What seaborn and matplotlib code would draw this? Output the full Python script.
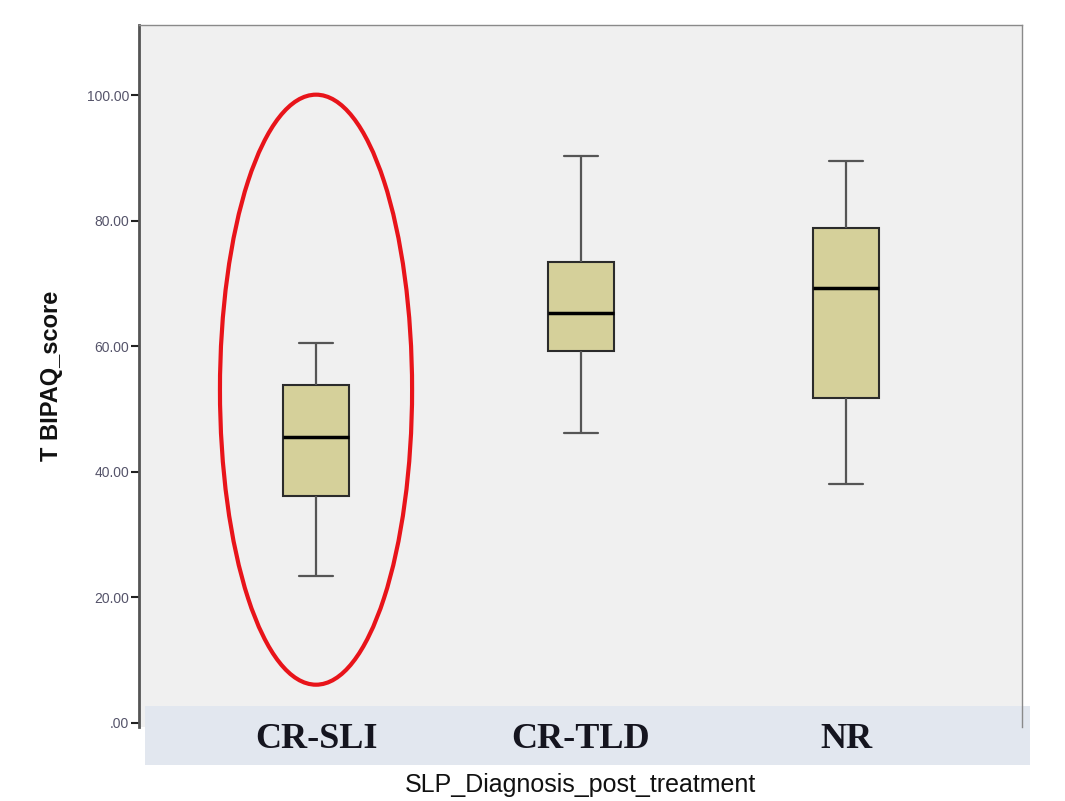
import pandas as pd
import matplotlib.pyplot as plt
import seaborn as sns
from matplotlib.patches import Ellipse, Rectangle

# Five-number summaries (min, Q1, median, Q3, max)
groups = ['CR-SLI', 'CR-TLD', 'NR']
cr_sli = [23.4, 36.2, 45.6, 53.9, 60.6]
cr_tld = [46.2, 59.3, 65.3, 73.5, 90.4]
nr = [38.1, 51.8, 69.3, 78.9, 89.6]
y_ticks = [0, 20, 40, 60, 80, 100]
y_tick_labels = ['.00', '20.00', '40.00', '60.00', '80.00', '100.00']

df = pd.DataFrame({
    'SLP_Diagnosis_post_treatment': [groups[0]] * 5 + [groups[1]] * 5 + [groups[2]] * 5,
    'T BIPAQ_score': cr_sli + cr_tld + nr,
})

sns.set_style('white')
plt.rcParams['font.family'] = ['Liberation Sans', 'DejaVu Sans']

fig = plt.figure(figsize=(10.65, 8.01), dpi=100)
ax = fig.add_axes([139 / 1065, (801 - 727) / 801, 883 / 1065, 702 / 801])
ax.set_facecolor('#f0f0f0')

sns.boxplot(
    data=df, x='SLP_Diagnosis_post_treatment', y='T BIPAQ_score',
    order=groups, color='#d5d09a', saturation=1, width=0.25,
    whis=(0, 100), linecolor='#2b2b2b', linewidth=1.5,
    medianprops=dict(color='black', linewidth=2.5),
    whiskerprops=dict(color='#555555', linewidth=1.6),
    capprops=dict(color='#555555', linewidth=1.6),
    ax=ax,
)

ax.set_xlim(-0.668, 2.664)
ax.set_ylim(-0.64, 111.2)
ax.set_yticks(y_ticks)
ax.set_yticklabels(y_tick_labels, fontsize=10, color='#55546a')
ax.tick_params(axis='y', direction='out', length=6, width=1.5, color='#222222', left=True, pad=1)

# category labels inside the light band below the plot
ax.tick_params(axis='x', length=0, pad=9)
for lab in ax.get_xticklabels():
    lab.set_family(['Liberation Serif'])
    lab.set_fontsize(26)
    lab.set_fontweight('bold')
    lab.set_color('#15151f')
    lab.set_verticalalignment('center')

band = Rectangle((145 / 1065, (801 - 765) / 801), 885 / 1065, 59 / 801,
                 transform=fig.transFigure, facecolor='#e2e7ef', edgecolor='none',
                 clip_on=False, zorder=0.3)
ax.add_patch(band)
ax.xaxis.set_zorder(3)

for side in ['top', 'right']:
    ax.spines[side].set_color('#8a8a8a')
    ax.spines[side].set_linewidth(1)
ax.spines['left'].set_color('#555555')
ax.spines['left'].set_linewidth(2)
ax.spines['bottom'].set_visible(False)

ax.set_ylabel('T BIPAQ_score', fontsize=17, fontweight='bold', color='#111111')
ax.yaxis.set_label_coords((63 - 139) / 883, 0.5)
ax.set_xlabel('SLP_Diagnosis_post_treatment', fontsize=18, color='#111111')
ax.xaxis.set_label_coords(0.5, (727 - 785) / 702)
ax.xaxis.label.set_verticalalignment('center')

# red highlight around CR-SLI
ax.add_patch(Ellipse((0, 53.1), 0.725, 94.0, fill=False, edgecolor='#e8141a',
                     linewidth=3, zorder=5, clip_on=False))

plt.savefig('out.png', dpi=100)
